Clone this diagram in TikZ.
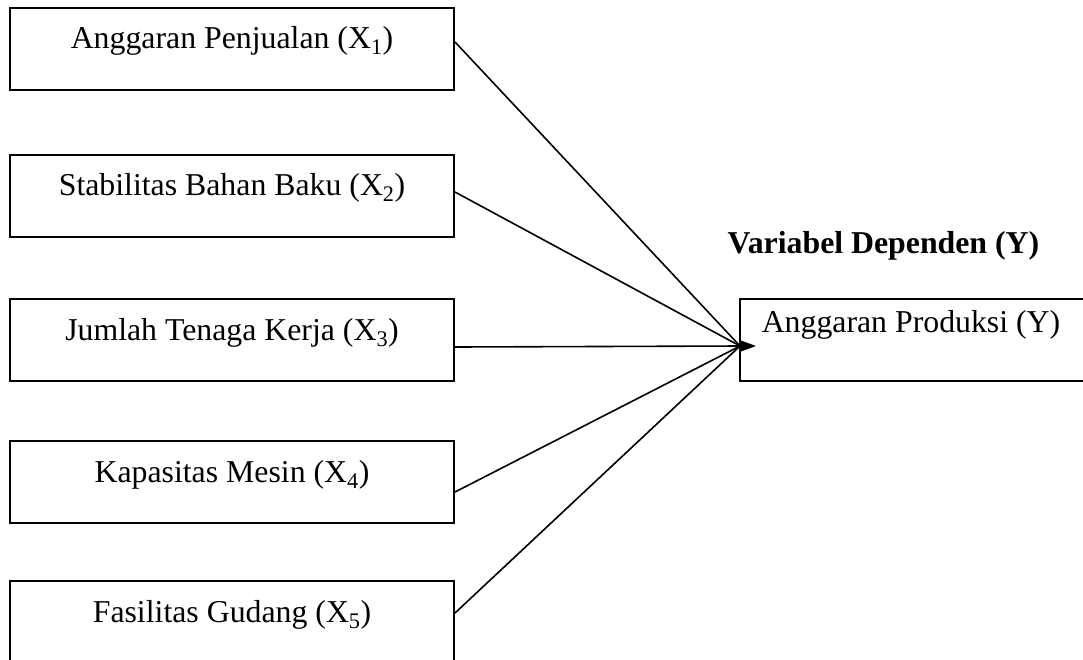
\documentclass[tikz,border=0pt]{standalone}
\usepackage{fontspec}
\setmainfont{Liberation Serif}
\usetikzlibrary{arrows.meta}
\begin{document}
\begin{tikzpicture}[x=1pt,y=-1pt,
  box/.style={draw,line width=2pt,minimum width=444pt,minimum height=82pt,inner sep=0pt},
  lbl/.style={anchor=base,inner sep=0pt,font=\fontsize{31.8}{38}\selectfont},
  conn/.style={line width=1.6pt}]
\useasboundingbox (0,0) rectangle (1083,659);
\clip (0,0) rectangle (1083,659);
\node[box] (x1) at (232,49) {};
\node[box] (x2) at (232,195.5) {};
\node[box] (x3) at (232,340) {};
\node[box] (x4) at (232,481.5) {};
\node[box] (x5) at (232,622) {};
\node[box,minimum width=345pt] (y) at (912.5,340) {};
\node[lbl] (t1) at (232,48) {Anggaran Penjualan (X\textsubscript{1})};
\node[lbl] (t2) at (232,195) {Stabilitas Bahan Baku (X\textsubscript{2})};
\node[lbl] (t3) at (232,340) {Jumlah Tenaga Kerja (X\textsubscript{3})};
\node[lbl] (t4) at (232,482) {Kapasitas Mesin (X\textsubscript{4})};
\node[lbl] (t5) at (232,622) {Fasilitas Gudang (X\textsubscript{5})};
\node[lbl] (ty) at (911,332) {Anggaran Produksi (Y)};
\node[lbl,font=\fontsize{31.8}{38}\selectfont\bfseries] (title) at (883.5,253) {Variabel Dependen (Y)};
\coordinate (c) at (740,346);
\coordinate (tip) at (756,346);
\draw[conn] ([yshift=7pt]x1.east) -- (c);
\draw[conn] ([yshift=3.5pt]x2.east) -- (c);
\draw[conn] ([yshift=-7pt]x3.east) -- (c);
\draw[conn] ([yshift=-10.5pt]x4.east) -- (c);
\draw[conn] ([yshift=9pt]x5.east) -- (c);
\draw[conn,-{Triangle[length=17pt,width=12pt]}] ([xshift=-2pt]c) -- (tip);
\end{tikzpicture}
\end{document}
